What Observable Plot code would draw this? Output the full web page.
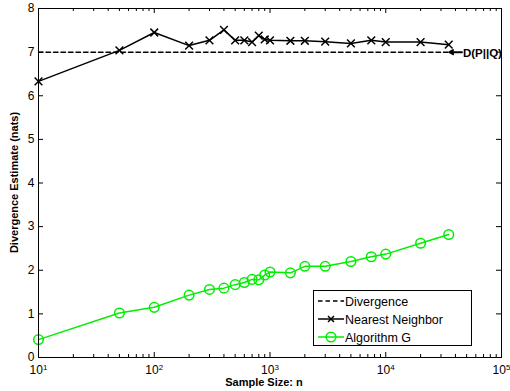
<!DOCTYPE html>
<html>
<head>
<meta charset="utf-8">
<script src="https://cdn.jsdelivr.net/npm/d3@7"></script>
<script src="https://cdn.jsdelivr.net/npm/@observablehq/plot@0.6"></script>
<style>
  html, body { margin: 0; padding: 0; background: #fff; }
  #wrap { position: relative; width: 510px; height: 391px; font-family: "Liberation Sans", Arial, sans-serif; }
  #legend { position: absolute; left: 313px; top: 290px; width: 159px; height: 56px; border: 1px solid #000; background: #fff; box-sizing: border-box; }
</style>
</head>
<body>
<div id="wrap"></div>
<script>
// ---- data ----
const sampleSizes = [10, 50, 100, 200, 300, 400, 500, 600, 700, 800, 900, 1000, 1500, 2000, 3000, 5000, 7500, 10000, 20000, 35000];
const nearestNeighbor = [6.33, 7.04, 7.45, 7.15, 7.27, 7.51, 7.27, 7.27, 7.23, 7.38, 7.29, 7.27, 7.26, 7.26, 7.24, 7.20, 7.27, 7.23, 7.23, 7.17];
const algorithmG = [0.41, 1.02, 1.15, 1.43, 1.56, 1.59, 1.67, 1.72, 1.79, 1.78, 1.89, 1.96, 1.94, 2.09, 2.09, 2.20, 2.31, 2.37, 2.62, 2.82];
const divergenceValue = 7;
const divergenceRange = [10, 35000];
const annotationLabel = "D(P||Q)";
const annotationArrow = [45500, 35500];
const xMajorTicks = [10, 100, 1000, 10000, 100000];
const xMinorTicks = [1, 2, 3, 4].flatMap(k => [2, 3, 4, 5, 6, 7, 8, 9].map(m => m * 10 ** k));
const yTicks = [0, 1, 2, 3, 4, 5, 6, 7, 8];
const seriesNames = ["Divergence", "Nearest Neighbor", "Algorithm G"];

const nnData = sampleSizes.map((n, i) => ({n, v: nearestNeighbor[i]}));
const agData = sampleSizes.map((n, i) => ({n, v: algorithmG[i]}));
const divData = divergenceRange.map(n => ({n, v: divergenceValue}));

const W = 510, H = 391, mT = 8, mB = 34, mL = 38, mR = 9;
const plotH = H - mT - mB;
const plotW = W - mL - mR;
const green = "#00ee00";

const chart = Plot.plot({
  width: W, height: H,
  marginTop: mT, marginBottom: mB, marginLeft: mL, marginRight: mR,
  style: {fontFamily: "'Liberation Sans', Arial, sans-serif", fontSize: "12px", color: "#000", background: "#fff"},
  x: {type: "log", domain: [10, 100000]},
  y: {domain: [0, 8]},
  marks: [
    // tick marks pointing inward (MATLAB style)
    Plot.tickX(xMajorTicks, {x: d => d, insetTop: plotH - 5, stroke: "#000"}),
    Plot.tickX(xMajorTicks, {x: d => d, insetBottom: plotH - 5, stroke: "#000"}),
    Plot.tickX(xMinorTicks, {x: d => d, insetTop: plotH - 3, stroke: "#000"}),
    Plot.tickX(xMinorTicks, {x: d => d, insetBottom: plotH - 3, stroke: "#000"}),
    Plot.tickY(yTicks, {y: d => d, insetRight: plotW - 5, stroke: "#000"}),
    Plot.tickY(yTicks, {y: d => d, insetLeft: plotW - 5, stroke: "#000"}),
    Plot.axisX({ticks: xMajorTicks, tickSize: 0, tickPadding: 8, tickFormat: d => "10^" + Math.round(Math.log10(d)), label: null, fontSize: 12}),
    Plot.axisY({ticks: yTicks, tickSize: 0, tickPadding: 4, tickFormat: d => String(d), label: null, fontSize: 12}),
    // divergence line
    Plot.line(divData, {x: "n", y: "v", stroke: "#000", strokeWidth: 1.5, strokeDasharray: "4.5,3"}),
    // nearest neighbor
    Plot.line(nnData, {x: "n", y: "v", stroke: "#000", strokeWidth: 1.5}),
    Plot.dot(nnData, {x: "n", y: "v", symbol: "times", r: 3.6, stroke: "#000", strokeWidth: 1.5}),
    // algorithm G
    Plot.line(agData, {x: "n", y: "v", stroke: green, strokeWidth: 1.5}),
    Plot.dot(agData, {x: "n", y: "v", symbol: "circle", r: 4.8, stroke: green, strokeWidth: 1.5, fill: "none"}),
    // annotation
    Plot.arrow([0], {x1: annotationArrow[0], x2: annotationArrow[1], y1: divergenceValue, y2: divergenceValue, stroke: "#000", strokeWidth: 2, headLength: 6, headAngle: 60}),
    Plot.text([annotationLabel], {x: annotationArrow[0], y: divergenceValue, text: d => d, textAnchor: "start", dx: 1, dy: 1, fontWeight: "bold", fontSize: 11.5, fill: "#000"}),
    Plot.frame({stroke: "#000", strokeWidth: 1})
  ]
});

// superscript exponents in x tick labels
d3.select(chart).selectAll('g[aria-label="x-axis tick label"] text').each(function() {
  const t = this.textContent;
  if (t.includes("^")) {
    const [b, e] = t.split("^");
    const sel = d3.select(this);
    sel.text(null);
    sel.append("tspan").text(b);
    sel.append("tspan").attr("dy", "-0.5em").attr("font-size", "8px").text(e);
  }
});

// axis titles
const svg = d3.select(chart);
svg.append("text")
  .attr("x", 264).attr("y", 386)
  .attr("text-anchor", "middle")
  .attr("font-weight", "bold").attr("font-size", "11px")
  .attr("font-family", "'Liberation Sans', Arial, sans-serif")
  .text("Sample Size: n");
svg.append("text")
  .attr("transform", `translate(18,${mT + plotH / 2}) rotate(-90)`)
  .attr("text-anchor", "middle")
  .attr("font-weight", "bold").attr("font-size", "11px")
  .attr("font-family", "'Liberation Sans', Arial, sans-serif")
  .text("Divergence Estimate (nats)");

const wrap = document.getElementById("wrap");
wrap.appendChild(chart);

// legend
const leg = document.createElement("div");
leg.id = "legend";
const lsvg = d3.select(leg).append("svg").attr("width", 157).attr("height", 54);
const rows = [10, 28, 46];
rows.forEach((y, i) => {
  const g = lsvg.append("g");
  if (i === 0) {
    g.append("line").attr("x1", 4).attr("x2", 30).attr("y1", y).attr("y2", y).attr("stroke", "#000").attr("stroke-width", 1.5).attr("stroke-dasharray", "4.5,3");
  } else if (i === 1) {
    g.append("line").attr("x1", 4).attr("x2", 30).attr("y1", y).attr("y2", y).attr("stroke", "#000").attr("stroke-width", 1.5);
    g.append("path").attr("d", `M${17-3},${y-3}L${17+3},${y+3}M${17-3},${y+3}L${17+3},${y-3}`).attr("stroke", "#000").attr("stroke-width", 1.5);
  } else {
    g.append("line").attr("x1", 4).attr("x2", 30).attr("y1", y).attr("y2", y).attr("stroke", green).attr("stroke-width", 1.5);
    g.append("circle").attr("cx", 17).attr("cy", y).attr("r", 4.8).attr("fill", "none").attr("stroke", green).attr("stroke-width", 1.5);
  }
  g.append("text").attr("x", 31).attr("y", y + 4.5).attr("font-size", "12.5px")
    .attr("font-family", "'Liberation Sans', Arial, sans-serif").text(seriesNames[i]);
});
wrap.appendChild(leg);
</script>
</body>
</html>
